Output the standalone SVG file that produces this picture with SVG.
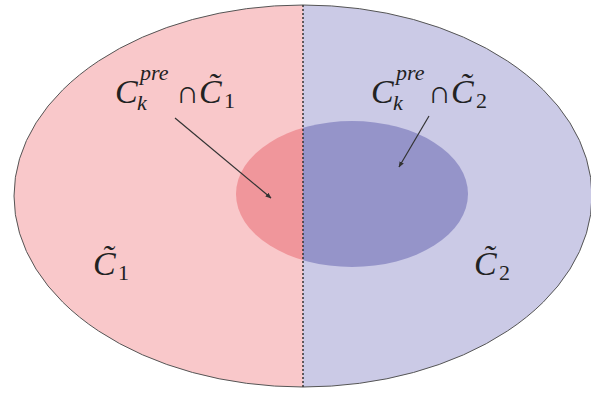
<svg xmlns="http://www.w3.org/2000/svg" width="591" height="394" viewBox="0 0 591 394">
<style>
.m{font-family:"Liberation Serif","DejaVu Serif",serif;fill:#222;font-size:34px}
.c{font-style:italic}
.s{font-style:italic;font-size:22px}
.n{font-size:22px}
.op{font-size:32px}
.arr{stroke:#333;stroke-width:1.2;fill:none;marker-end:url(#ah)}
</style>
<defs>
<clipPath id="outer"><ellipse cx="303" cy="196" rx="289" ry="191"/></clipPath>
<clipPath id="inner"><ellipse cx="352" cy="194" rx="116" ry="73"/></clipPath>
<marker id="ah" viewBox="0 0 10 10" refX="9" refY="5" markerWidth="5" markerHeight="5" orient="auto"><path d="M0,1 L10,5 L0,9 z" fill="#333"/></marker>
</defs>
<g id="outer-set">
<g clip-path="url(#outer)">
<rect x="0" y="0" width="303" height="394" fill="#f9c8ca"/>
<rect x="303" y="0" width="300" height="394" fill="#cbcae6"/>
</g>
<ellipse cx="303" cy="196" rx="289" ry="191" fill="none" stroke="#555" stroke-width="1"/>
</g>
<g id="inner-set" clip-path="url(#inner)">
<rect x="230" y="110" width="73" height="170" fill="#f0969b"/>
<rect x="303" y="110" width="170" height="170" fill="#9594c9"/>
</g>
<g id="divider">
<line x1="303" y1="5" x2="303" y2="387" stroke="#333" stroke-width="1.5" stroke-dasharray="2,2"/>
</g>
<g id="connectors">
<line class="arr" x1="175" y1="118" x2="271" y2="198"/>
<line class="arr" x1="429" y1="116" x2="399" y2="167"/>
</g>
<g id="label-left">
<text class="m"><tspan class="c" x="115" y="103">C</tspan><tspan class="s" x="140" y="80">pre</tspan><tspan class="s" x="137" y="110">k</tspan><tspan class="op" x="176" y="103">∩</tspan><tspan class="c" x="199" y="103">C&#x303;</tspan><tspan class="n" x="224" y="108">1</tspan></text>
</g>
<g id="label-right">
<text class="m"><tspan class="c" x="371" y="103">C</tspan><tspan class="s" x="396" y="80">pre</tspan><tspan class="s" x="393" y="110">k</tspan><tspan class="op" x="428" y="103">∩</tspan><tspan class="c" x="451" y="103">C&#x303;</tspan><tspan class="n" x="476" y="108">2</tspan></text>
</g>
<g id="label-c1">
<text class="m"><tspan class="c" x="93" y="275">C&#x303;</tspan><tspan class="n" x="118" y="280">1</tspan></text>
</g>
<g id="label-c2">
<text class="m"><tspan class="c" x="474" y="275">C&#x303;</tspan><tspan class="n" x="499" y="280">2</tspan></text>
</g>
</svg>
